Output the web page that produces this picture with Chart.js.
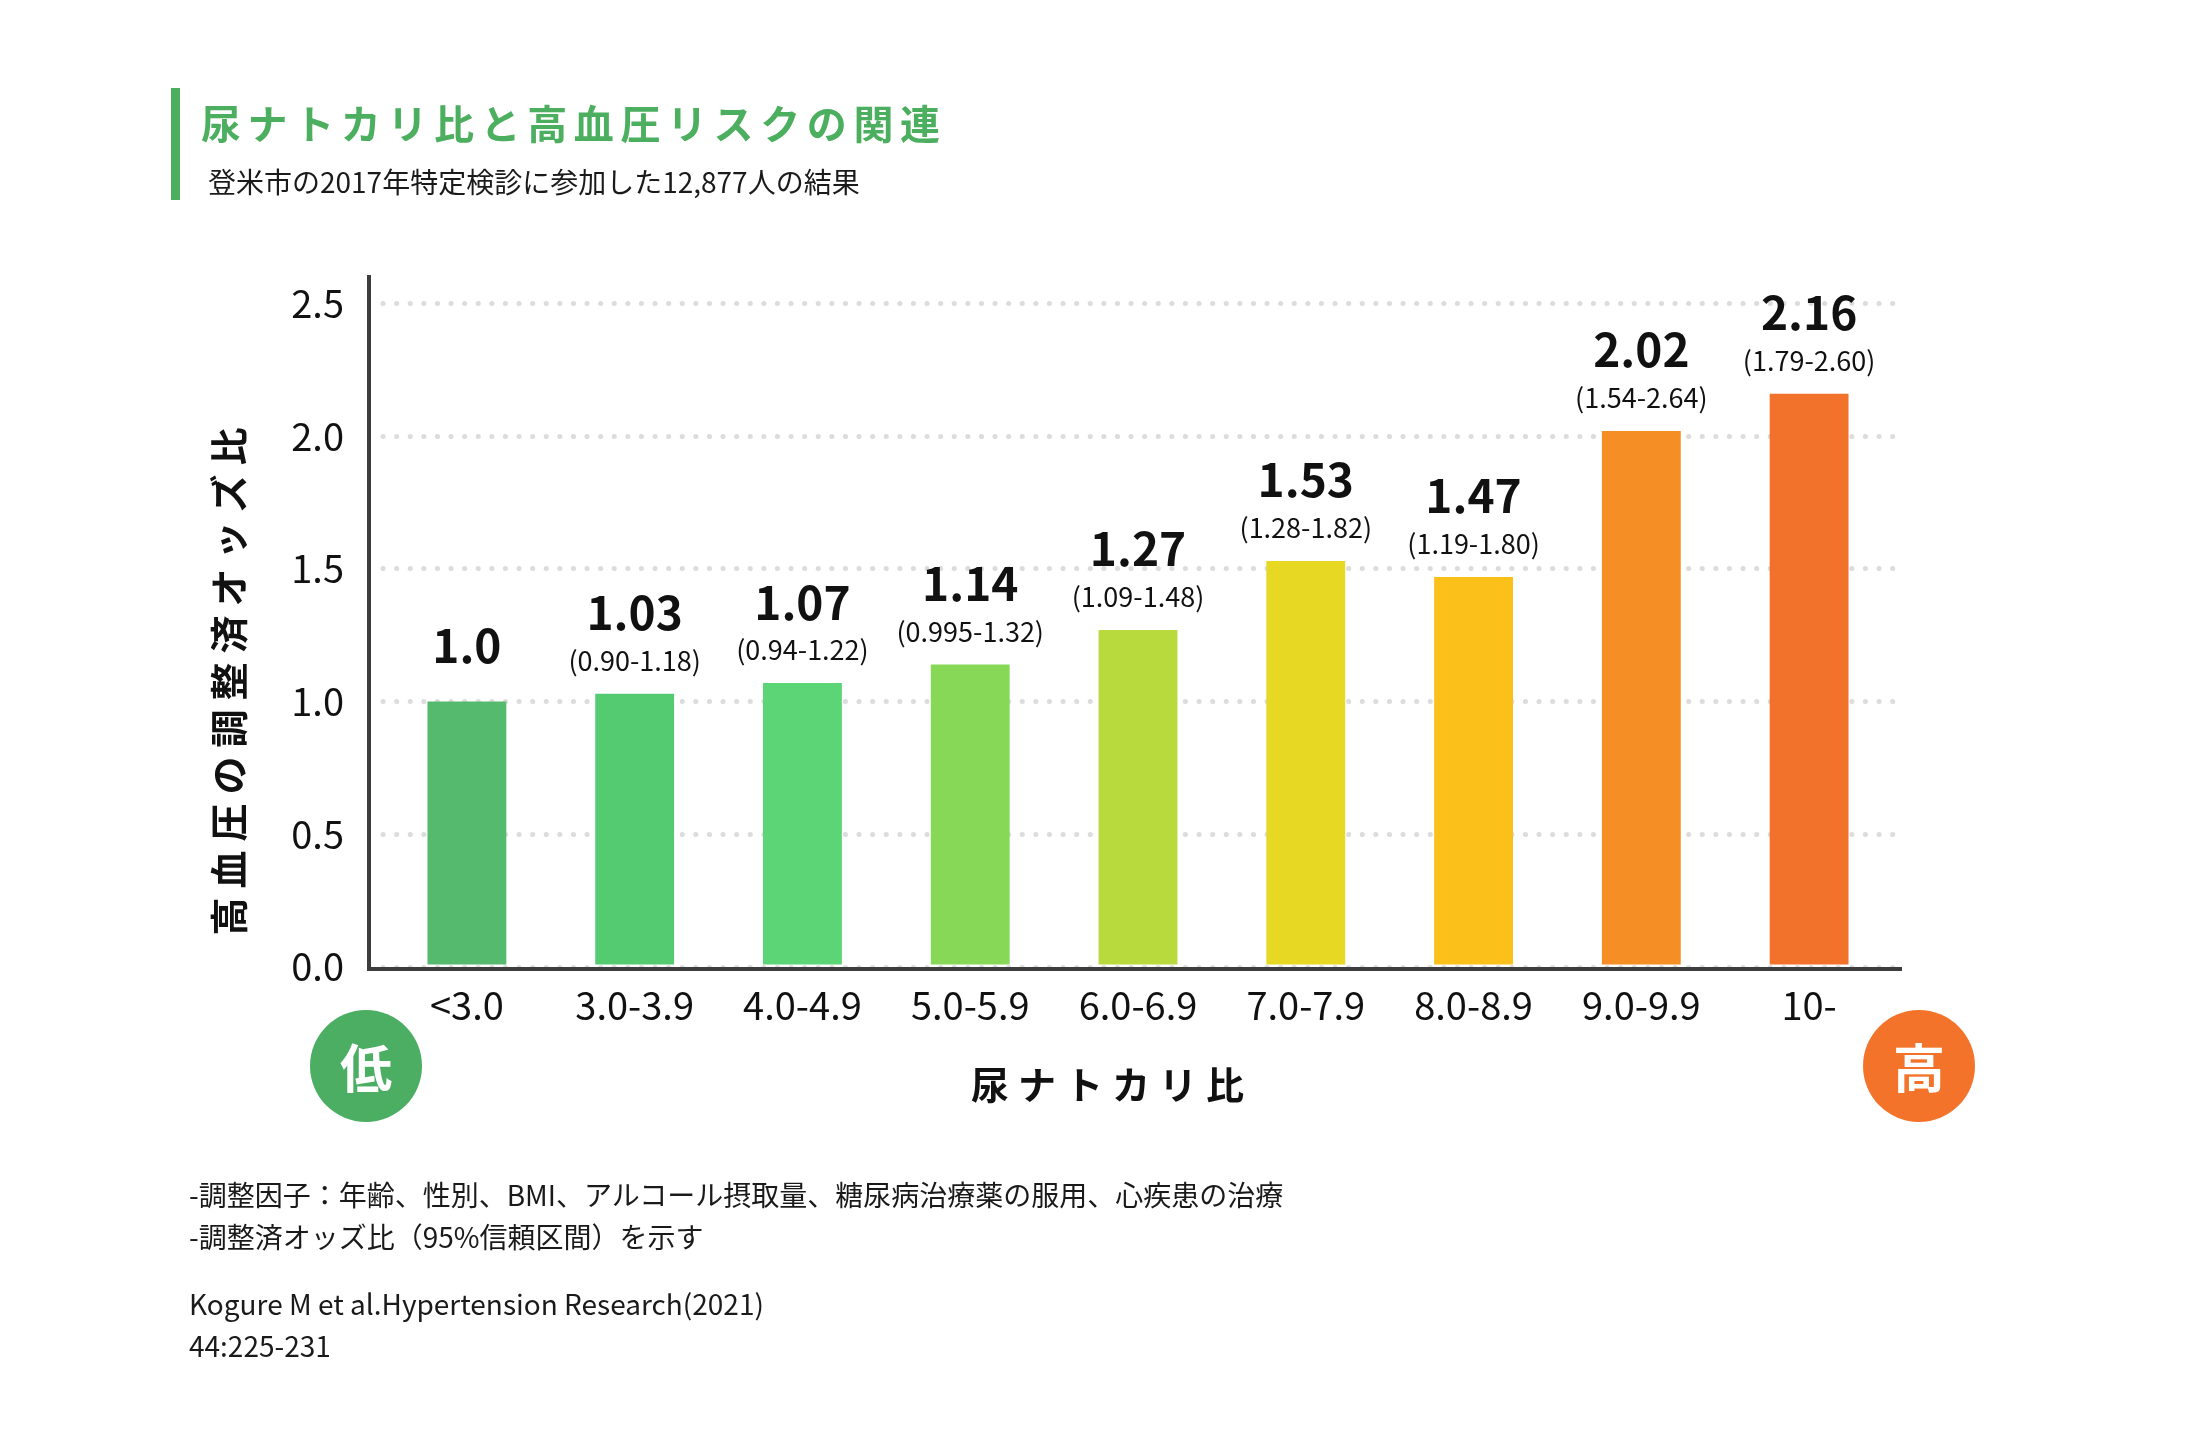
<!DOCTYPE html>
<html lang="ja">
<head>
<meta charset="utf-8">
<script src="https://cdn.jsdelivr.net/npm/chart.js@4.4.1/dist/chart.umd.min.js"></script>
<style>
  html,body{margin:0;padding:0;background:#fff;}
  body{width:2200px;height:1456px;position:relative;overflow:hidden;font-family:"Noto Sans CJK JP","Noto Sans",sans-serif;color:#1a1a1a;}
  #wrap{position:absolute;left:0;top:0;width:2200px;height:1456px;}
  .abs{position:absolute;white-space:nowrap;line-height:1;}
  #accent{position:absolute;left:171px;top:88px;width:9px;height:112px;background:#4CAF5F;}
  #title{left:201px;top:102px;font-size:40px;font-weight:700;color:#4CAF5F;letter-spacing:6.6px;}
  #subtitle{left:208px;top:167px;font-size:28px;color:#1a1a1a;}
  .note{left:189px;font-size:28px;color:#1a1a1a;}
  .circle{position:absolute;width:112px;height:112px;border-radius:50%;display:flex;align-items:center;justify-content:center;color:#fff;font-size:52px;font-weight:700;line-height:1;}
  #low{left:310px;top:1010px;background:#4BAE62;}
  #high{left:1863px;top:1010px;background:#F4732A;}
</style>
</head>
<body>
<div id="wrap"><canvas id="chart" width="2200" height="1456"></canvas></div>
<div id="accent"></div>
<div id="title" class="abs">尿ナトカリ比と高血圧リスクの関連</div>
<div id="subtitle" class="abs">登米市の2017年特定検診に参加した12,877人の結果</div>
<div class="circle" id="low">低</div>
<div class="circle" id="high">高</div>
<div class="abs note" style="top:1180px;">-調整因子：年齢、性別、BMI、アルコール摂取量、糖尿病治療薬の服用、心疾患の治療</div>
<div class="abs note" style="top:1222px;">-調整済オッズ比（95%信頼区間）を示す</div>
<div class="abs note" style="top:1289px;">Kogure M et al.Hypertension Research(2021)</div>
<div class="abs note" style="top:1331px;">44:225-231</div>
<script>
const categories = ['<3.0','3.0-3.9','4.0-4.9','5.0-5.9','6.0-6.9','7.0-7.9','8.0-8.9','9.0-9.9','10-'];
const oddsRatios = [1.0, 1.03, 1.07, 1.14, 1.27, 1.53, 1.47, 2.02, 2.16];
const valueLabels = ['1.0','1.03','1.07','1.14','1.27','1.53','1.47','2.02','2.16'];
const ciLabels = ['', '(0.90-1.18)', '(0.94-1.22)', '(0.995-1.32)', '(1.09-1.48)', '(1.28-1.82)', '(1.19-1.80)', '(1.54-2.64)', '(1.79-2.60)'];
const barColors = ['#55BA6E','#55CB71','#5BD575','#87D857','#B9DA3C','#E6D823','#FCC01A','#F68E26','#F3722B'];
const yTickValues = [0, 0.5, 1.0, 1.5, 2.0, 2.5];
const yTitle = '高血圧の調整済オッズ比';
const xTitle = '尿ナトカリ比';

const FONT = '"Noto Sans CJK JP","Noto Sans",sans-serif';

const prepPlugin = {
  id: 'prep',
  beforeDraw(chart){ chart.ctx.lineCap = 'round'; }
};

const decorPlugin = {
  id: 'decor',
  afterDatasetsDraw(chart){
    const ctx = chart.ctx;
    const area = chart.chartArea;
    const meta = chart.getDatasetMeta(0);
    ctx.save();
    ctx.lineCap = 'butt';
    ctx.strokeStyle = '#3d3d3d';
    ctx.lineWidth = 4;
    ctx.beginPath();
    ctx.moveTo(369, area.top - 2);
    ctx.lineTo(369, area.bottom + 2);
    ctx.lineTo(1902, area.bottom + 2);
    ctx.stroke();
    ctx.fillStyle = '#111';
    ctx.textAlign = 'center';
    ctx.textBaseline = 'middle';
    meta.data.forEach((bar, i) => {
      const ci = ciLabels[i];
      if (ci) {
        ctx.font = '400 27px ' + FONT;
        ctx.fillText(ci, bar.x, bar.y - 33);
        ctx.font = '700 46px ' + FONT;
        ctx.fillText(valueLabels[i], bar.x, bar.y - 81);
      } else {
        ctx.font = '700 46px ' + FONT;
        ctx.fillText(valueLabels[i], bar.x, bar.y - 56);
      }
    });
    ctx.font = '700 38px ' + FONT;
    ctx.letterSpacing = '9px';
    ctx.fillStyle = '#111';
    ctx.fillText(xTitle, 1112, 1085);
    ctx.translate(229, 677);
    ctx.rotate(-Math.PI/2);
    ctx.fillText(yTitle, 0, 0);
    ctx.restore();
  }
};

new Chart(document.getElementById('chart'), {
  type: 'bar',
  data: {
    labels: categories,
    datasets: [{
      data: oddsRatios,
      backgroundColor: barColors,
      borderWidth: 0,
      barPercentage: 0.47,
      categoryPercentage: 1.0
    }]
  },
  options: {
    responsive: false,
    animation: false,
    devicePixelRatio: 1,
    layout: { padding: { left: 0, top: 277, right: 307, bottom: 0 } },
    plugins: { legend: { display: false }, tooltip: { enabled: false } },
    scales: {
      x: {
        grid: { display: false, drawTicks: false },
        border: { display: false },
        ticks: { color: '#111', font: { family: FONT, size: 38 }, padding: 16, maxRotation: 0, autoSkip: false },
        afterFit(scale){ scale.height = 489; }
      },
      y: {
        min: 0, max: 2.6,
        grid: { color: '#dcdcdc', lineWidth: 5, drawTicks: false, tickLength: 0 },
        border: { display: false, dash: [0.1, 13.5] },
        ticks: {
          color: '#111',
          font: { family: FONT, size: 38 },
          padding: 39,
          callback: v => Number(v).toFixed(1)
        },
        afterBuildTicks(scale){
          scale.ticks = yTickValues.map(v => ({ value: v }));
        },
        afterFit(scale){ scale.width = 383; }
      }
    }
  },
  plugins: [prepPlugin, decorPlugin]
});
</script>
</body>
</html>
